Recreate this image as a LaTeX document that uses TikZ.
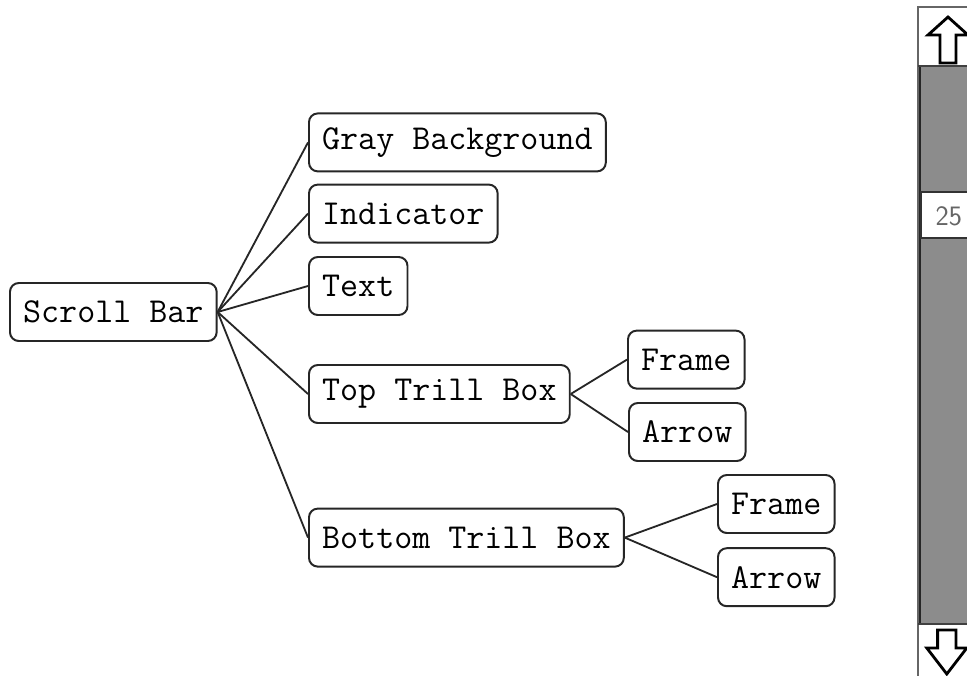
\documentclass[tikz,border=0pt]{standalone}
\usepackage{fontspec}
\begin{document}
\begin{tikzpicture}[
        % Rounded boxes of the tree
        part/.style={draw=black!85, line width=1.4pt, rounded corners=0.22cm, fill=white, anchor=west, inner xsep=0.33cm, minimum height=1.45cm, font=\ttfamily\fontsize{24.9}{29}\selectfont},
        % Plain connector lines
        link/.style={draw=black!85, line width=1.3pt},
        % Outline arrows of the scroll bar
        trill/.style={draw=black, line width=2pt, fill=white, line join=miter}
    ]

    \useasboundingbox (0,0) rectangle (24.175,-16.875);

    % Root of the tree
    \node[part] (scroll) at (0.225, -7.8) {Scroll Bar};

    % First level
    \node[part] (gray) at (7.7, -3.56) {Gray Background};
    \node[part] (indicator) at (7.7, -5.34) {Indicator};
    \node[part] (txt) at (7.7, -7.15) {Text};
    \node[part] (toptrill) at (7.7, -9.85) {Top Trill Box};
    \node[part] (bottomtrill) at (7.7, -13.44) {Bottom Trill Box};

    % Second level
    \node[part] (topframe) at (15.675, -8.99) {Frame};
    \node[part] (toparrow) at (15.7, -10.8) {Arrow};
    \node[part] (bottomframe) at (17.925, -12.6) {Frame};
    \node[part] (bottomarrow) at (17.925, -14.43) {Arrow};

    % Connections
    \foreach \child in {gray, indicator, txt, toptrill, bottomtrill}
        \draw[link] (scroll.east) -- (\child.west);
    \draw[link] (toptrill.east) -- (topframe.west);
    \draw[link] (toptrill.east) -- (toparrow.west);
    \draw[link] (bottomtrill.east) -- (bottomframe.west);
    \draw[link] (bottomtrill.east) -- (bottomarrow.west);

    % Scroll bar itself, cut off at the right edge
    \begin{scope}
        \clip (22.8,0) rectangle (24.175,-16.875);
        \fill[black!45] (22.95,-1.65) rectangle (24.5,-15.6);
        \draw[black!60, line width=1pt] (22.95,-0.175) rectangle (24.5,-17.2);
        \draw[black!85, line width=1.6pt] (23.0,-1.65) -- (23.0,-15.6);
        \draw[black!75, line width=1pt] (22.95,-1.65) -- (24.5,-1.65);
        \draw[black!75, line width=1pt] (22.95,-15.6) -- (24.5,-15.6);

        % position box
        \draw[black!80, line width=1.2pt, fill=white] (23.02,-4.8) rectangle (24.5,-5.95);
        \node[text=black!60, font=\sffamily\fontsize{20}{22}\selectfont] (pos) at (23.72,-5.4) {25};

        % up and down arrows
        \draw[trill] (23.7,-0.425) -- (24.2,-0.875) -- (23.9,-0.875) -- (23.9,-1.575)
            -- (23.5,-1.575) -- (23.5,-0.875) -- (23.2,-0.875) -- cycle;
        \draw[trill] (23.67,-16.85) -- (24.17,-16.2) -- (23.9,-16.2) -- (23.9,-15.75)
            -- (23.44,-15.75) -- (23.44,-16.2) -- (23.17,-16.2) -- cycle;
    \end{scope}

\end{tikzpicture}
\end{document}
